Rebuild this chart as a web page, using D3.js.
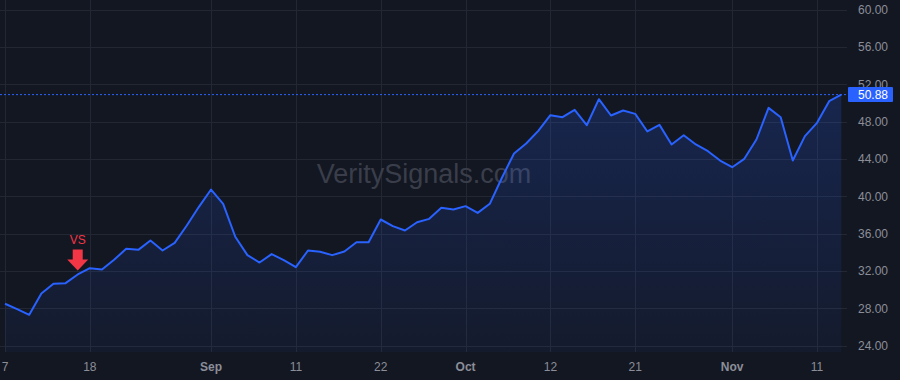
<!DOCTYPE html>
<html>
<head>
<meta charset="utf-8">
<script src="https://cdn.jsdelivr.net/npm/d3@7"></script>
<style>
    html, body { margin: 0; padding: 0; background: #131722; }
    #chart { width: 900px; height: 380px; }
    text { font-family: "Liberation Sans", Arial, sans-serif; }
</style>
</head>
<body>
<div id="chart"></div>
<script>
// daily closes, one per bar
const closes = [
    28.47, 27.90, 27.29, 29.57, 30.61, 30.68, 31.61, 32.28, 32.14, 33.18,
    34.36, 34.25, 35.25, 34.18, 35.00, 36.86, 38.86, 40.71, 39.18, 35.65,
    33.68, 32.89, 33.79, 33.14, 32.39, 34.18, 34.04, 33.68, 34.07, 35.07,
    35.07, 37.50, 36.79, 36.32, 37.21, 37.57, 38.75, 38.57, 38.93, 38.21,
    39.18, 41.97, 44.57, 45.64, 47.00, 48.68, 48.46, 49.25, 47.60, 50.39,
    48.64, 49.18, 48.82, 46.93, 47.64, 45.54, 46.53, 45.54, 44.82, 43.82,
    43.10, 44.00, 46.07, 49.46, 48.46, 43.82, 46.43, 47.86, 50.18, 50.88
];

// time axis labels and the bar they sit on
const tickBars = [0, 7, 17, 24, 31, 38, 45, 52, 60, 67];
const tickLabels = ['7', '18', 'Sep', '11', '22', 'Oct', '12', '21', 'Nov', '11'];

const priceTicks = [24, 28, 32, 36, 40, 44, 48, 52, 56, 60];

// signal markers
const signalBars = [6];
const signalText = ['VS'];

const lastPrice = closes[closes.length - 1];

class PriceChart {
    constructor(containerId) {
        this.containerId = containerId;
        this.width = 900;
        this.height = 380;
        this.plotW = 847;
        this.plotH = 352;
        this.lineColor = '#2962ff';
        this.gridColor = '#232733';
        this.textColor = '#8b8e98';
    }

    init() {
        this.setupSVG();
        this.setupScales();
        this.drawGrid();
        this.drawWatermark();
        this.drawSeries();
        this.drawAxes();
        this.drawLastPrice();
        this.drawSignals();
    }

    setupSVG() {
        this.svg = d3.select(`#${this.containerId}`)
            .append('svg')
            .attr('width', this.width)
            .attr('height', this.height);

        this.svg.append('rect')
            .attr('width', this.width)
            .attr('height', this.height)
            .attr('fill', '#131722');

        this.svg.append('clipPath')
            .attr('id', 'plot-clip')
            .append('rect')
            .attr('width', this.plotW)
            .attr('height', this.plotH);
    }

    setupScales() {
        this.xScale = d3.scaleLinear()
            .domain([0, closes.length - 1])
            .range([5, 5 + (closes.length - 1) * 12.12]);

        this.yScale = d3.scaleLinear()
            .domain([24, 60])
            .range([345.5, 9.5]);
    }

    drawGrid() {
        const g = this.svg.append('g').attr('class', 'grid');

        g.selectAll('.hgrid')
            .data(priceTicks)
            .enter()
            .append('line')
            .attr('x1', 0)
            .attr('x2', this.plotW)
            .attr('y1', d => Math.round(this.yScale(d)) + 0.5)
            .attr('y2', d => Math.round(this.yScale(d)) + 0.5)
            .attr('stroke', this.gridColor)
            .attr('stroke-width', 1);

        g.selectAll('.vgrid')
            .data(tickBars)
            .enter()
            .append('line')
            .attr('x1', d => Math.round(this.xScale(d)) + 0.5)
            .attr('x2', d => Math.round(this.xScale(d)) + 0.5)
            .attr('y1', 0)
            .attr('y2', this.plotH)
            .attr('stroke', this.gridColor)
            .attr('stroke-width', 1);
    }

    drawWatermark() {
        this.svg.append('text')
            .attr('x', 424)
            .attr('y', 183)
            .attr('text-anchor', 'middle')
            .attr('fill', '#3a3e4a')
            .style('font-size', '27px')
            .text('VeritySignals.com');
    }

    drawSeries() {
        const defs = this.svg.append('defs');
        const grad = defs.append('linearGradient')
            .attr('id', 'area-grad')
            .attr('gradientUnits', 'userSpaceOnUse')
            .attr('x1', 0).attr('x2', 0)
            .attr('y1', this.yScale(d3.max(closes)))
            .attr('y2', this.plotH);
        grad.append('stop').attr('offset', '0%').attr('stop-color', '#2962ff').attr('stop-opacity', 0.2);
        grad.append('stop').attr('offset', '100%').attr('stop-color', '#2962ff').attr('stop-opacity', 0.05);

        const plot = this.svg.append('g').attr('clip-path', 'url(#plot-clip)');

        const area = d3.area()
            .x((d, i) => this.xScale(i))
            .y0(this.plotH)
            .y1(d => this.yScale(d));

        const line = d3.line()
            .x((d, i) => this.xScale(i))
            .y(d => this.yScale(d));

        plot.append('path')
            .datum(closes)
            .attr('d', area)
            .attr('fill', 'url(#area-grad)');

        // last price dotted line
        plot.append('line')
            .attr('x1', 0)
            .attr('x2', this.plotW)
            .attr('y1', this.yScale(lastPrice))
            .attr('y2', this.yScale(lastPrice))
            .attr('stroke', this.lineColor)
            .attr('stroke-width', 1)
            .attr('stroke-dasharray', '2,2');

        plot.append('path')
            .datum(closes)
            .attr('d', line)
            .attr('fill', 'none')
            .attr('stroke', this.lineColor)
            .attr('stroke-width', 2)
            .attr('stroke-linejoin', 'round');
    }

    drawAxes() {
        // the 52.00 label sits under the last price box, as in the original
        this.svg.append('g')
            .attr('class', 'y-axis')
            .selectAll('text')
            .data(priceTicks)
            .enter()
            .append('text')
            .attr('x', 858)
            .attr('y', d => this.yScale(d) + 4.5)
            .attr('fill', this.textColor)
            .style('font-size', '12px')
            .text(d => d.toFixed(2));

        this.svg.append('g')
            .attr('class', 'x-axis')
            .selectAll('text')
            .data(tickBars)
            .enter()
            .append('text')
            .attr('x', d => this.xScale(d))
            .attr('y', 371)
            .attr('text-anchor', 'middle')
            .attr('fill', this.textColor)
            .style('font-size', '12px')
            .style('font-weight', (d, i) => isNaN(+tickLabels[i]) ? 'bold' : 'normal')
            .text((d, i) => tickLabels[i]);
    }

    drawLastPrice() {
        const y = this.yScale(lastPrice);
        this.svg.append('rect')
            .attr('x', 848)
            .attr('y', y - 7.5)
            .attr('width', 45)
            .attr('height', 15)
            .attr('rx', 1)
            .attr('fill', this.lineColor);

        this.svg.append('text')
            .attr('x', 858)
            .attr('y', y + 4.5)
            .attr('fill', '#ffffff')
            .style('font-size', '12px')
            .text(lastPrice.toFixed(2));
    }

    drawSignals() {
        const red = '#f23645';
        const g = this.svg.append('g').attr('class', 'signals');

        signalBars.forEach((bar, i) => {
            const x = this.xScale(bar);
            const tip = this.yScale(closes[bar]) - 4;
            g.append('path')
                .attr('d', `M${x - 5},${tip - 21} L${x + 5},${tip - 21} L${x + 5},${tip - 11}
                    L${x + 10.5},${tip - 11} L${x},${tip} L${x - 10.5},${tip - 11} L${x - 5},${tip - 11} Z`)
                .attr('fill', red);

            g.append('text')
                .attr('x', x)
                .attr('y', tip - 26)
                .attr('text-anchor', 'middle')
                .attr('fill', red)
                .style('font-size', '12px')
                .text(signalText[i]);
        });
    }
}

const chart = new PriceChart('chart');
chart.init();
</script>
</body>
</html>
